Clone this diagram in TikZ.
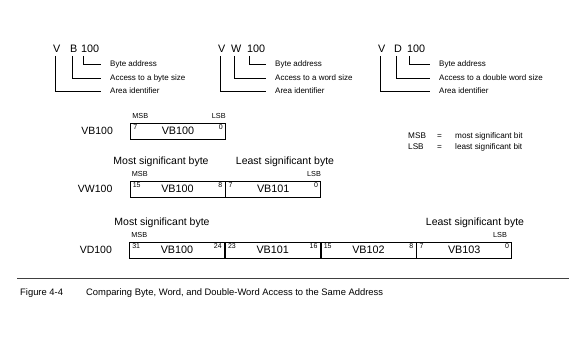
\documentclass[tikz,border=0pt]{standalone}
\usepackage{fontspec}
\setmainfont{Liberation Sans}
\usetikzlibrary{positioning, calc}

\begin{document}
\begin{tikzpicture}[
      x=1pt, y=-1pt,
      addr/.style={font=\fontsize{10.8}{12}\selectfont, inner sep=0pt, anchor=base west},
      note/.style={font=\fontsize{8}{9.5}\selectfont, inner sep=0pt, anchor=west},
      lead/.style={line width=0.6pt},
      lbl/.style={font=\fontsize{10.5}{12}\selectfont, inner sep=0pt},
      cell/.style={draw, line width=0.75pt, minimum width=95pt, minimum height=16pt, inner sep=0pt, font=\fontsize{10.8}{12}\selectfont},
      bitl/.style={font=\fontsize{7}{8}\selectfont, inner sep=0pt, anchor=north west},
      bitr/.style={font=\fontsize{7}{8}\selectfont, inner sep=0pt, anchor=north east},
      sb/.style={font=\fontsize{7.3}{8}\selectfont, inner sep=0pt},
      leg/.style={font=\fontsize{8.2}{9.5}\selectfont, inner sep=0pt, anchor=west},
    ]
      \useasboundingbox (0,0) rectangle (573,339);

      % byte address
      \node[addr] (bv) at (53,53) {V};
      \node[addr] (bb) at (70,53) {B};
      \node[addr] (bn) at (81,53) {100};
      \node[note] (bn-t) at (110,64) {Byte address};
      \node[note] (bb-t) at (110,78) {Access to a byte size};
      \node[note] (bv-t) at (110,91) {Area identifier};
      \draw[lead] ([shift={(2.5pt,-3pt)}]bn.base west) |- ([xshift=-9pt]bn-t.west);
      \draw[lead] ([shift={(2.5pt,-3pt)}]bb.base west) |- ([xshift=-9pt]bb-t.west);
      \draw[lead] ([shift={(2.5pt,-3pt)}]bv.base west) |- ([xshift=-9pt]bv-t.west);

      % word address
      \node[addr] (wv) at (218,53) {V};
      \node[addr] (ww) at (231,53) {W};
      \node[addr] (wn) at (247,53) {100};
      \node[note] (wn-t) at (275,64) {Byte address};
      \node[note] (ww-t) at (275,78) {Access to a word size};
      \node[note] (wv-t) at (275,91) {Area identifier};
      \draw[lead] ([shift={(2.5pt,-3pt)}]wn.base west) |- ([xshift=-9pt]wn-t.west);
      \draw[lead] ([shift={(3.5pt,-3pt)}]ww.base west) |- ([xshift=-9pt]ww-t.west);
      \draw[lead] ([shift={(2.5pt,-3pt)}]wv.base west) |- ([xshift=-9pt]wv-t.west);

      % double word address
      \node[addr] (dv) at (378,53) {V};
      \node[addr] (dd) at (394,53) {D};
      \node[addr] (dn) at (407,53) {100};
      \node[note] (dn-t) at (439,64) {Byte address};
      \node[note] (dd-t) at (439,78) {Access to a double word size};
      \node[note] (dv-t) at (439,91) {Area identifier};
      \draw[lead] ([shift={(2.5pt,-3pt)}]dn.base west) |- ([xshift=-9pt]dn-t.west);
      \draw[lead] ([shift={(2.5pt,-3pt)}]dd.base west) |- ([xshift=-9pt]dd-t.west);
      \draw[lead] ([shift={(2.5pt,-3pt)}]dv.base west) |- ([xshift=-9pt]dv-t.west);

      % VB100
      \node[cell] (b0) at (178,131) {VB100};
      \node[lbl, left=17pt of b0] (b-name) {VB100};
      \node[bitl] (b0-l) at ([shift={(3pt,-2pt)}]b0.north west) {7};
      \node[bitr] (b0-r) at ([shift={(-3pt,-2pt)}]b0.north east) {0};
      \node[sb, anchor=south west] (b-msb) at ([shift={(2pt,4pt)}]b0.north west) {MSB};
      \node[sb, anchor=south east] (b-lsb) at ([shift={(0pt,4pt)}]b0.north east) {LSB};

      \node[leg] (k-msb) at (408,136) {MSB};
      \node[leg] (k-eq1) at (437,136) {=};
      \node[leg] (k-msbt) at (455,136) {most significant bit};
      \node[leg] (k-lsb) at (408,147) {LSB};
      \node[leg] (k-eq2) at (437,147) {=};
      \node[leg] (k-lsbt) at (455,147) {least significant bit};

      % VW100
      \node[cell] (w0) at (177.5,189) {VB100};
      \node[cell, right=0pt of w0] (w1) {VB101};
      \node[lbl, left=17pt of w0] (w-name) {VW100};
      \node[bitl] (w0-l) at ([shift={(3pt,-2pt)}]w0.north west) {15};
      \node[bitr] (w0-r) at ([shift={(-3pt,-2pt)}]w0.north east) {8};
      \node[bitl] (w1-l) at ([shift={(3pt,-2pt)}]w1.north west) {7};
      \node[bitr] (w1-r) at ([shift={(-3pt,-2pt)}]w1.north east) {0};
      \node[sb, anchor=south west] (w-msb) at ([shift={(2pt,4pt)}]w0.north west) {MSB};
      \node[sb, anchor=south east] (w-lsb) at ([shift={(0pt,4pt)}]w1.north east) {LSB};
      \node[lbl] (w-most) at (161,162) {Most significant byte};
      \node[lbl] (w-least) at (285,162) {Least significant byte};

      % VD100
      \node[cell] (d0) at (177,250) {VB100};
      \node[cell, right=0pt of d0] (d1) {VB101};
      \node[cell, right=0pt of d1] (d2) {VB102};
      \node[cell, right=0pt of d2] (d3) {VB103};
      \node[lbl, left=17pt of d0] (d-name) {VD100};
      \node[bitl] (d0-l) at ([shift={(3pt,-2pt)}]d0.north west) {31};
      \node[bitr] (d0-r) at ([shift={(-3pt,-2pt)}]d0.north east) {24};
      \node[bitl] (d1-l) at ([shift={(3pt,-2pt)}]d1.north west) {23};
      \node[bitr] (d1-r) at ([shift={(-3pt,-2pt)}]d1.north east) {16};
      \node[bitl] (d2-l) at ([shift={(3pt,-2pt)}]d2.north west) {15};
      \node[bitr] (d2-r) at ([shift={(-3pt,-2pt)}]d2.north east) {8};
      \node[bitl] (d3-l) at ([shift={(3pt,-2pt)}]d3.north west) {7};
      \node[bitr] (d3-r) at ([shift={(-3pt,-2pt)}]d3.north east) {0};
      \node[sb, anchor=south west] (d-msb) at ([shift={(2pt,4pt)}]d0.north west) {MSB};
      \node[sb, anchor=south east] (d-lsb) at ([shift={(-5pt,4pt)}]d3.north east) {LSB};
      \node[lbl] (d-most) at (162,223) {Most significant byte};
      \node[lbl] (d-least) at (475,223) {Least significant byte};

      % caption
      \draw[line width=0.8pt, black!75] (17,278) -- (569,278);
      \node[font=\fontsize{9.4}{11}\selectfont, inner sep=0pt, anchor=west] (fig-no) at (20,293) {Figure 4-4};
      \node[font=\fontsize{9.4}{11}\selectfont, inner sep=0pt, anchor=west] (fig-cap) at (86,293) {Comparing Byte, Word, and Double-Word Access to the Same Address};
    \end{tikzpicture}
\end{document}
